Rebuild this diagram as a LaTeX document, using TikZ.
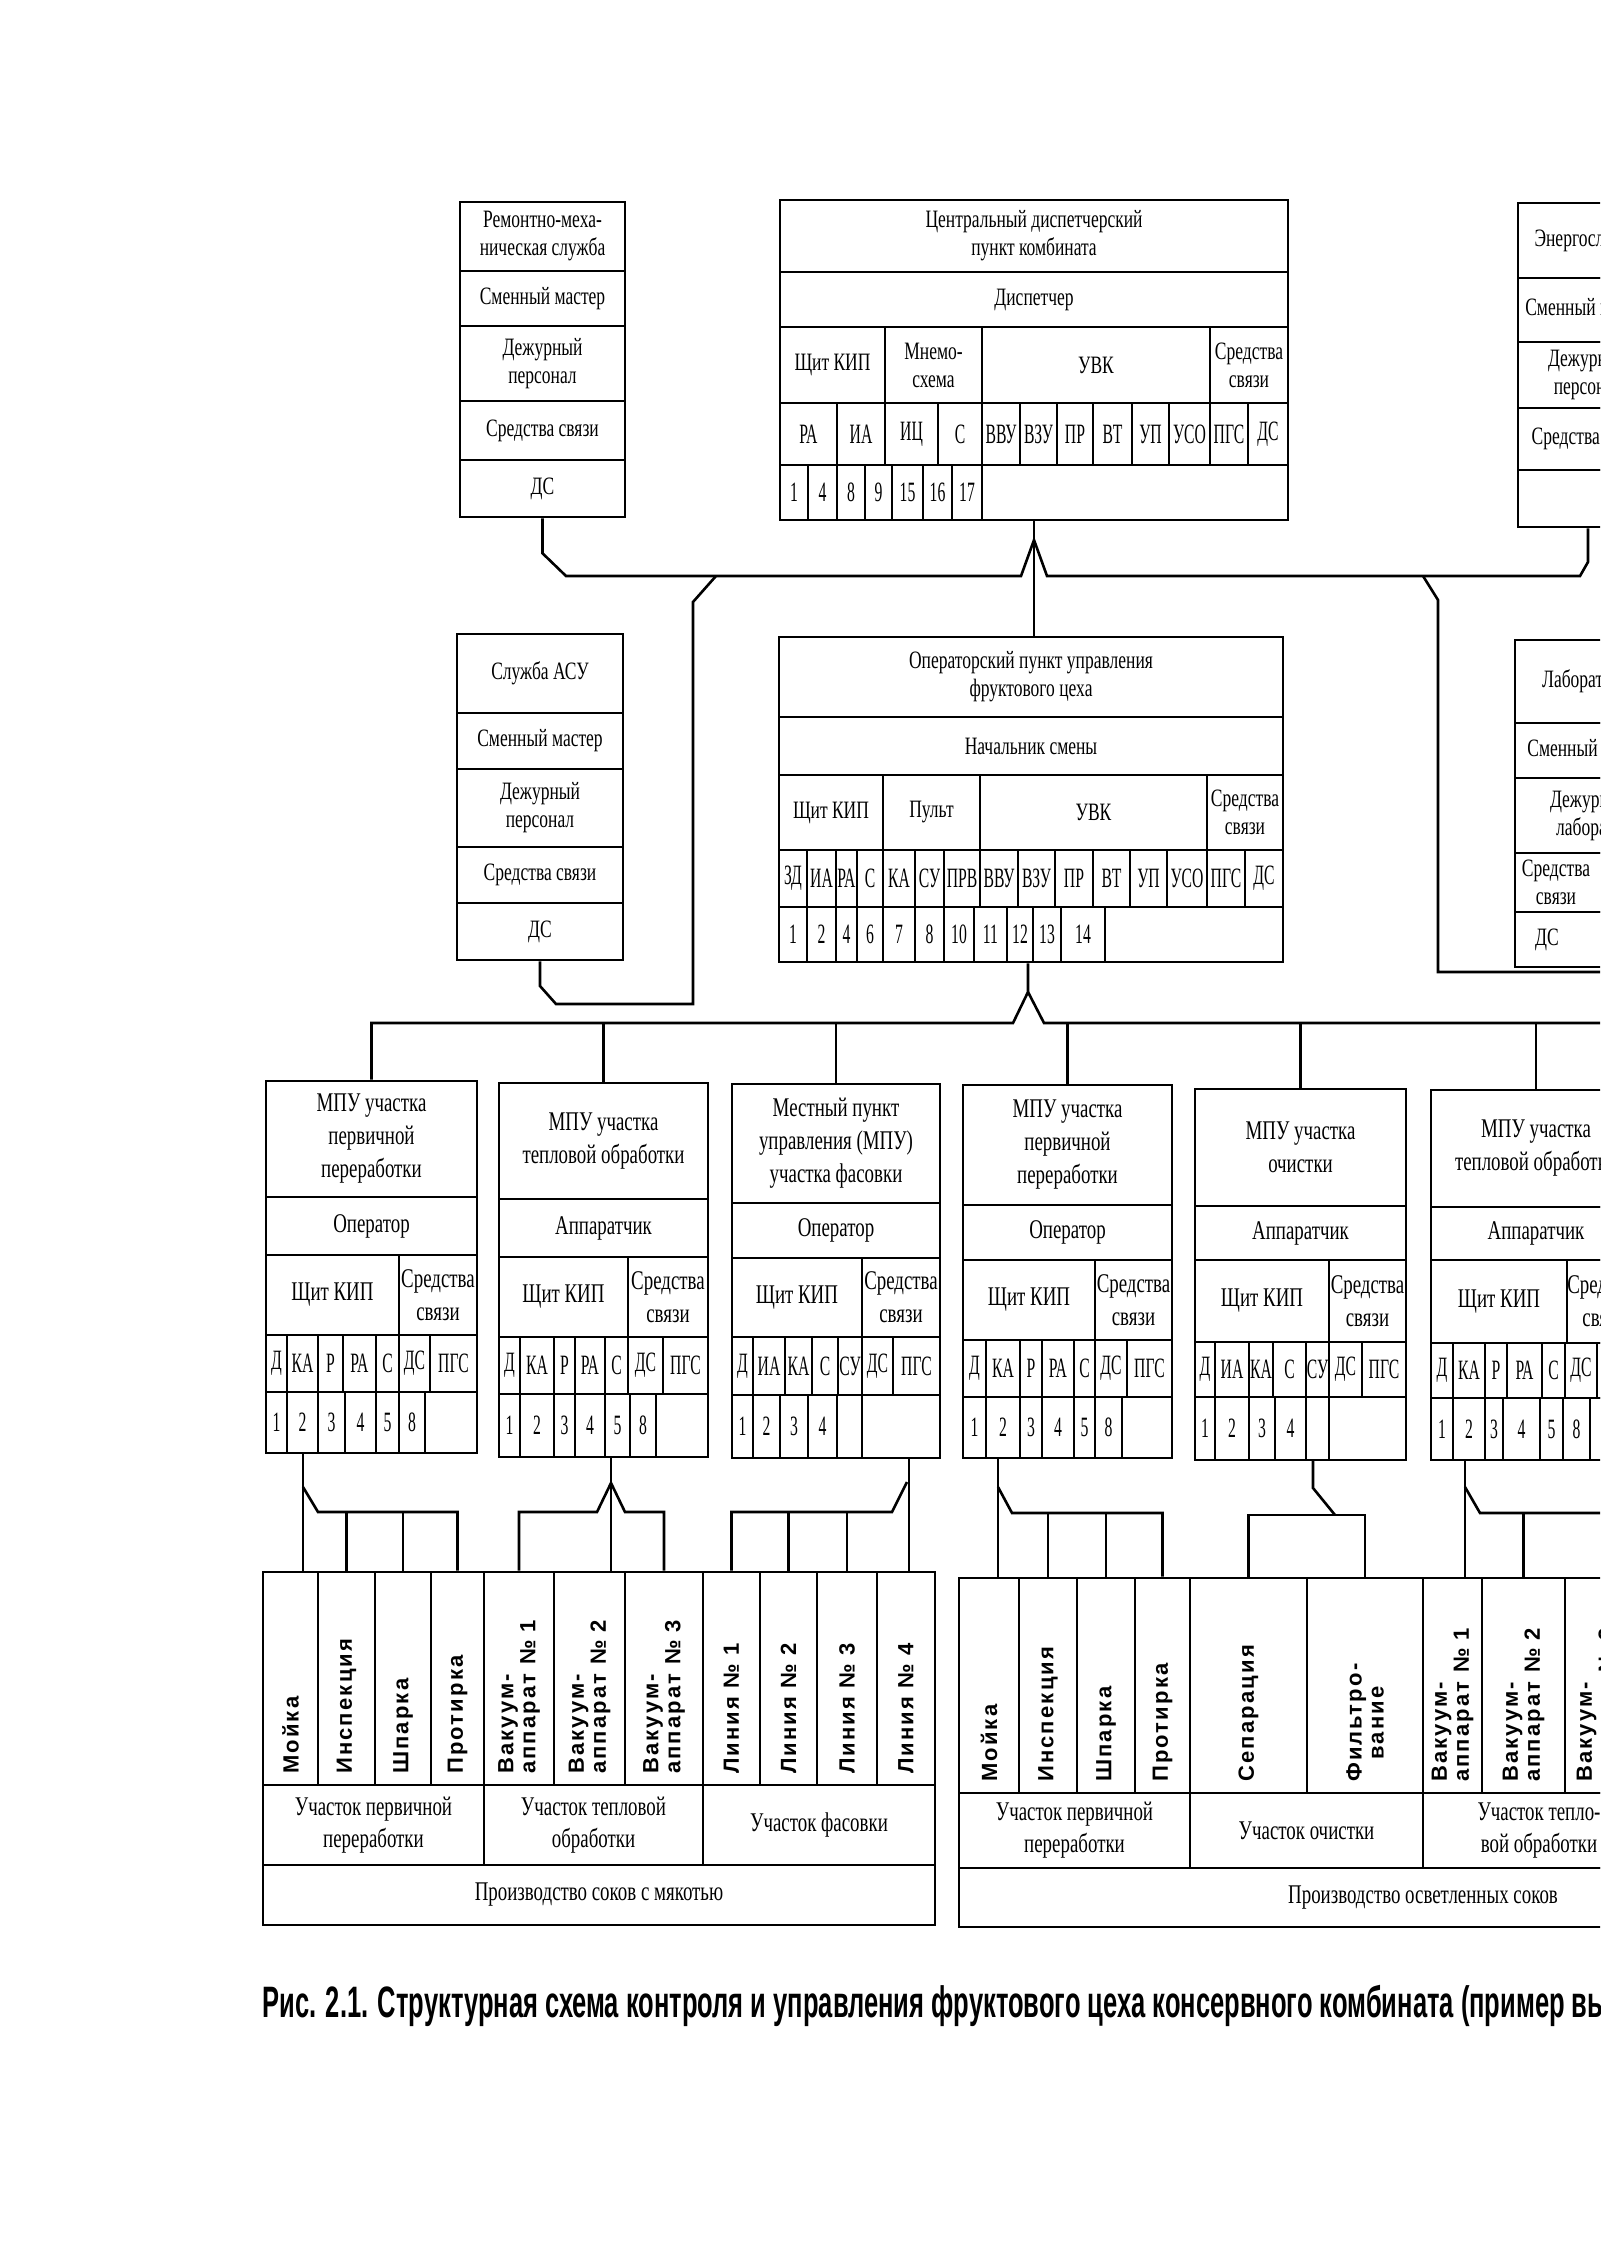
\documentclass[tikz,border=0pt]{standalone}
\usepackage{fontspec}
\setmainfont{Liberation Serif}[FakeStretch=0.7]
\newfontfamily\narrowfont{Liberation Serif}[FakeStretch=0.56]
\newfontfamily\capfont{Liberation Sans}[FakeStretch=0.58]
\newfontfamily\eqfont{Liberation Sans}[LetterSpace=10]

% one cell of a table: [opts]{name}{x1}{y1}{x2}{y2}{text}
\newcommand\cell[7][]{%
  \node[tab,#1,minimum width={(#5-#3)*0.5pt},minimum height={(#6-#4)*0.5pt}]
    (#2) at ({(#3+#5)/2},{(#4+#6)/2}) {#7};}
% a row of cells: [opts]{prefix}{y1}{y2}{x1/x2/text,...}
\newcommand\cellrow[5][]{%
  \foreach \xa/\xb/\txt [count=\cnt] in {#5} {\cell[#1]{#2-\cnt}{\xa}{#3}{\xb}{#4}{\txt}}}
% a column of cells: [opts]{prefix}{x1}{x2}{y1/y2/text,...}
\newcommand\cellcol[5][]{%
  \foreach \ya/\yb/\txt [count=\cnt] in {#5} {\cell[#1]{#2-\cnt}{#3}{\ya}{#4}{\yb}{\txt}}}

\begin{document}
\begin{tikzpicture}[x=0.5pt,y=-0.5pt,
	tab/.style={
		draw,
		line width=1.3pt,
		inner sep=0pt,
		align=center,
		font=\fontsize{12.5}{14}\selectfont},
	abbr/.style={font=\narrowfont\fontsize{14}{15}\selectfont},
	big/.style={font=\fontsize{13.5}{16.5}\selectfont},
	lbl/.style={font=\fontsize{13.5}{16}\selectfont},
	eq/.style={rotate=90,anchor=west,inner sep=0pt,align=left,
		font=\eqfont\bfseries\fontsize{11}{11}\selectfont},
	link/.style={line width=1.3pt},
	]
	\useasboundingbox (0,0) rectangle (1600,2262);
	\fill[white] (0,0) rectangle (1600,2262);
	\clip (0,0) rectangle (1600,2262);

	% services and dispatcher level
	\cellcol{rms}{460}{625}{202/271/{Ремонтно-меха-\\ническая служба}, 271/326/Сменный мастер,
		326/401/{Дежурный\\персонал}, 401/460/Средства связи, 460/517/ДС}
	\cellcol{cdp}{780}{1288}{200/272/{Центральный диспетчерский\\пункт комбината}, 272/327/Диспетчер}
	\cellrow{cdp3}{327}{403}{780/885/Щит КИП, 885/982/{Мнемо-\\схема}, 982/1210/УВК, 1210/1288/{Средства\\связи}}
	\cellrow[abbr]{cdp4}{403}{465}{780/837/РА, 837/885/ИА, 885/938/ИЦ, 938/982/С, 982/1020/ВВУ,
		1020/1057/ВЗУ, 1057/1093/ПР, 1093/1132/ВТ, 1132/1169/УП, 1169/1210/УСО, 1210/1248/ПГС, 1248/1288/ДС}
	\cellrow[abbr]{cdp5}{465}{520}{780/808/1, 808/837/4, 837/865/8, 865/892/9, 892/923/15,
		923/952/16, 952/982/17, 982/1288/{}}
	\cellcol{eng}{1518}{1658}{203/278/Энергослужба, 278/342/Сменный мастер,
		342/408/{Дежурный\\персонал}, 408/470/Средства связи, 470/527/{}}

	% shop operator level
	\cellcol{asu}{457}{623}{634/713/Служба АСУ, 713/769/Сменный мастер,
		769/847/{Дежурный\\персонал}, 847/903/Средства связи, 903/960/ДС}
	\cellcol{opu}{779}{1283}{637/717/{Операторский пункт управления\\фруктового цеха}, 717/775/Начальник смены}
	\cellrow{opu3}{775}{850}{779/883/Щит КИП, 883/980/Пульт, 980/1207/УВК, 1207/1283/{Средства\\связи}}
	\cellrow[abbr]{opu4}{850}{907}{779/807/ЗД, 807/836/ИА, 836/857/РА, 857/883/С, 883/915/КА,
		915/944/СУ, 944/980/ПРВ, 980/1018/ВВУ, 1018/1055/ВЗУ, 1055/1093/ПР, 1093/1130/ВТ,
		1130/1167/УП, 1167/1207/УСО, 1207/1245/ПГС, 1245/1283/ДС}
	\cellrow[abbr]{opu5}{907}{962}{779/807/1, 807/836/2, 836/857/4, 857/883/6, 883/915/7,
		915/944/8, 944/974/10, 974/1007/11, 1007/1033/12, 1033/1061/13, 1061/1105/14, 1105/1283/{}}
	\cellcol{lab}{1515}{1665}{640/723/Лаборатория, 723/778/Сменный мастер,
		778/853/{Дежурный\\лаборант}, 853/912/{}, 912/967/{}}
	\node[tab,draw=none] (lab-sv) at (1556,882) {Средства\\связи};
	\node[tab,draw=none] (lab-ds) at (1547,940) {ДС};

	% local control points
	\cellcol[big]{mpu1}{266}{477}{1081/1197/{МПУ участка\\первичной\\переработки}, 1197/1255/Оператор}
	\cellrow[big]{mpu1r3}{1255}{1335}{266/399/Щит КИП, 399/477/{Средства\\связи}}
	\cellrow[abbr]{mpu1r4}{1335}{1392}{266/287/Д, 287/318/КА, 318/343/Р, 343/376/РА, 376/399/С, 399/430/ДС, 430/477/ПГС}
	\cellrow[abbr]{mpu1r5}{1392}{1453}{266/287/1, 287/318/2, 318/345/3, 345/376/4, 376/399/5, 399/425/8, 425/477/{}}

	\cellcol[big]{mpu2}{499}{708}{1083/1199/{МПУ участка\\тепловой обработки}, 1199/1257/Аппаратчик}
	\cellrow[big]{mpu2r3}{1257}{1337}{499/628/Щит КИП, 628/708/{Средства\\связи}}
	\cellrow[abbr]{mpu2r4}{1337}{1394}{499/520/Д, 520/554/КА, 554/575/Р, 575/605/РА, 605/628/С, 628/663/ДС, 663/708/ПГС}
	\cellrow[abbr]{mpu2r5}{1394}{1457}{499/520/1, 520/554/2, 554/575/3, 575/605/4, 605/630/5, 630/656/8, 656/708/{}}

	\cellcol[big]{mpu3}{732}{940}{1084/1203/{Местный пункт\\управления (МПУ)\\участка фасовки}, 1203/1258/Оператор}
	\cellrow[big]{mpu3r3}{1258}{1337}{732/862/Щит КИП, 862/940/{Средства\\связи}}
	\cellrow[abbr]{mpu3r4}{1337}{1395}{732/753/Д, 753/785/ИА, 785/812/КА, 812/838/С, 838/862/СУ, 862/893/ДС, 893/940/ПГС}
	\cellrow[abbr]{mpu3r5}{1395}{1458}{732/753/1, 753/780/2, 780/808/3, 808/837/4, 837/862/{}, 862/940/{}}

	\cellcol[big]{mpu4}{963}{1172}{1085/1205/{МПУ участка\\первичной\\переработки}, 1205/1260/Оператор}
	\cellrow[big]{mpu4r3}{1260}{1340}{963/1095/Щит КИП, 1095/1172/{Средства\\связи}}
	\cellrow[abbr]{mpu4r4}{1340}{1397}{963/986/Д, 986/1020/КА, 1020/1042/Р, 1042/1074/РА, 1074/1095/С, 1095/1127/ДС, 1127/1172/ПГС}
	\cellrow[abbr]{mpu4r5}{1397}{1458}{963/986/1, 986/1020/2, 1020/1042/3, 1042/1074/4, 1074/1095/5, 1095/1122/8, 1122/1172/{}}

	\cellcol[big]{mpu5}{1195}{1406}{1089/1206/{МПУ участка\\очистки}, 1206/1260/Аппаратчик}
	\cellrow[big]{mpu5r3}{1260}{1342}{1195/1329/Щит КИП, 1329/1406/{Средства\\связи}}
	\cellrow[abbr]{mpu5r4}{1342}{1397}{1195/1215/Д, 1215/1249/ИА, 1249/1273/КА, 1273/1306/С, 1306/1329/СУ, 1329/1362/ДС, 1362/1406/ПГС}
	\cellrow[abbr]{mpu5r5}{1397}{1460}{1195/1215/1, 1215/1249/2, 1249/1275/3, 1275/1306/4, 1306/1329/{}, 1329/1406/{}}

	\cellcol[big]{mpu6}{1431}{1641}{1090/1207/{МПУ участка\\тепловой обработки}, 1207/1260/Аппаратчик}
	\cellrow[big]{mpu6r3}{1260}{1343}{1431/1567/Щит КИП, 1567/1641/{Средства\\связи}}
	\cellrow[abbr]{mpu6r4}{1343}{1398}{1431/1453/Д, 1453/1485/КА, 1485/1507/Р, 1507/1542/РА, 1542/1565/С, 1565/1597/ДС, 1597/1641/ПГС}
	\cellrow[abbr]{mpu6r5}{1398}{1460}{1431/1453/1, 1453/1485/2, 1485/1503/3, 1503/1540/4, 1540/1563/5, 1563/1590/8, 1590/1641/{}}

	% equipment, juices with pulp
	\cellrow{bA}{1572}{1785}{263/318/{}, 318/375/{}, 375/431/{}, 431/484/{}, 484/554/{}, 554/625/{},
		625/703/{}, 703/760/{}, 760/817/{}, 817/877/{}, 877/935/{}}
	\foreach \txt [count=\cnt] in {Мойка, Инспекция, Шпарка, Протирка, {Вакуум-\\аппарат № 1},
		{Вакуум-\\аппарат № 2}, {Вакуум-\\аппарат № 3}, Линия № 1, Линия № 2, Линия № 3, Линия № 4}
		\node[eq] (eA-\cnt) at ([yshift=6pt]bA-\cnt.south) {\txt};
	\cellrow[lbl]{bA2}{1785}{1865}{263/484/{Участок первичной\\переработки}, 484/703/{Участок тепловой\\обработки}, 703/935/Участок фасовки}
	\cellrow[lbl]{bA3}{1865}{1925}{263/935/Производство соков с мякотью}

	% equipment, clarified juices
	\cellrow{bB}{1578}{1793}{959/1019/{}, 1019/1077/{}, 1077/1135/{}, 1135/1190/{}, 1190/1307/{},
		1307/1423/{}, 1423/1482/{}, 1482/1565/{}, 1565/1630/{}}
	\foreach \txt/\al [count=\cnt] in {Мойка/left, Инспекция/left, Шпарка/left, Протирка/left,
		Сепарация/left, {Фильтро-\\вание}/center, {Вакуум-\\аппарат № 1}/left,
		{Вакуум-\\аппарат № 2}/left, {Вакуум-\\аппарат № 3}/left}
		\node[eq,align=\al] (eB-\cnt) at ([yshift=6pt]bB-\cnt.south) {\txt};
	\cellrow[lbl]{bB2}{1793}{1868}{959/1190/{Участок первичной\\переработки}, 1190/1423/Участок очистки,
		1423/1655/{Участок тепло-\\вой обработки}}
	\cellrow[lbl]{bB3}{1868}{1927}{959/1887/Производство осветленных соков}

	% links of the upper level
	\coordinate (busL) at (566,576);
	\coordinate (apex) at (1034,540);
	\coordinate (footL) at (1021,576);
	\coordinate (footR) at (1047,576);
	\coordinate (busR) at (1580,576);
	\coordinate (brL) at (716,576);
	\coordinate (brR) at (1423,576);
	\draw[link] (rms-5.south) -- ++(0,35) -- (busL) -- (footL) -- (apex) -- (footR) -- (busR)
		-- ++(8,-14) -- (eng-5.south);
	\draw[link] (apex |- cdp5-8.south) -- (apex |- opu-1.north);
	\draw[link] (brL) -- ++(-23,26) -- ++(0,402) -- ++(-137,0) -- ++(-16,-18) -- (asu-5.south);
	\draw[link] (brR) -- ++(15,24) -- ++(0,372) -- ++(220,0);

	% links of the shop level
	\coordinate (apex2) at (1028,992);
	\coordinate (foot2L) at (1013,1023);
	\coordinate (foot2R) at (1044,1023);
	\draw[link] (apex2 |- opu5-9.south) -- (apex2) -- (foot2L) -- (foot2L -| mpu1-1.north) -- (mpu1-1.north);
	\draw[link] (apex2) -- (foot2R) -- ++(620,0);
	\foreach \m in {2,3,4,5,6}
		\draw[link] (foot2L -| mpu\m-1.north) -- (mpu\m-1.north);

	% links to the equipment
	\coordinate (t1) at (303,1453);
	\coordinate (t2) at (611,1457);
	\coordinate (t3) at (909,1458);
	\coordinate (t4) at (998,1458);
	\coordinate (t5) at (1313,1460);
	\coordinate (t6) at (1465,1460);
	\draw[link] (t1) -- (t1 |- bA-1.north);
	\draw[link] (303,1487) -- (318,1512) -| (bA-4.north);
	\foreach \c in {2,3} \draw[link] (bA-\c.north) -- ++(0,-60);
	\draw[link] (t2) -- (t2 |- bA-6.north);
	\draw[link] (bA-5.north) |- (597,1512) -- (611,1483) -- (625,1512) -| (bA-7.north);
	\draw[link] (t3) -- (t3 |- bA-11.north);
	\draw[link] (907,1482) -- (892,1512) -| (bA-8.north);
	\foreach \c in {9,10} \draw[link] (bA-\c.north) -- ++(0,-60);
	\draw[link] (t4) -- (t4 |- bB-1.north);
	\draw[link] (998,1487) -- (1012,1513) -| (bB-4.north);
	\foreach \c in {2,3} \draw[link] (bB-\c.north) -- ++(0,-65);
	\draw[link] (t5) -- ++(0,28) -- (1335,1515);
	\draw[link] (bB-5.north) |- (1335,1515) -| (bB-6.north);
	\draw[link] (t6) -- (t6 |- bB-7.north);
	\draw[link] (1465,1487) -- (1480,1513) -- (1640,1513);
	\draw[link] (bB-8.north) -- ++(0,-65);

	\node[anchor=west,inner sep=0pt,font=\capfont\bfseries\fontsize{22}{24}\selectfont] (cap) at (262,2006)
		{Рис. 2.1. Структурная схема контроля и управления фруктового цеха консервного комбината (пример вы};
\end{tikzpicture}
\end{document}
